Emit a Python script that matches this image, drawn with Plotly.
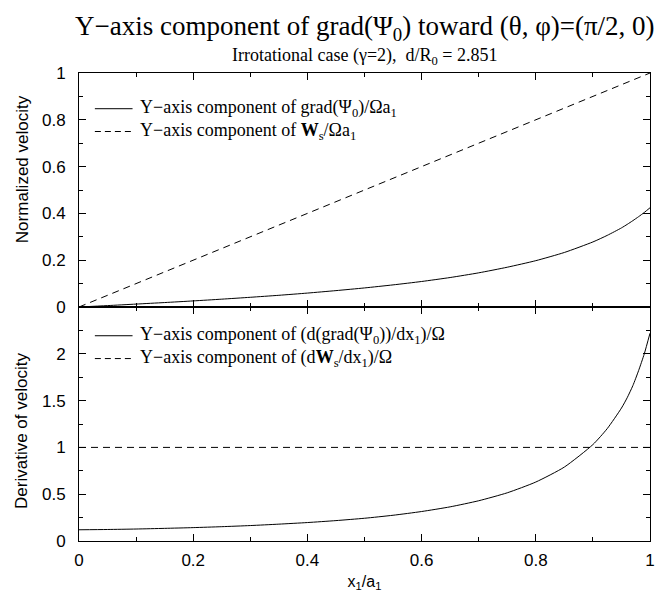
import plotly.graph_objects as go
from plotly.subplots import make_subplots

# x_1/a_1 sample points
x = [0, 0.05, 0.1, 0.15, 0.2, 0.25, 0.3, 0.35, 0.4, 0.45, 0.5, 0.55, 0.6,
     0.65, 0.7, 0.75, 0.8, 0.85, 0.9, 0.925, 0.95, 0.96, 0.97, 0.98, 0.99, 1.0]

# top panel: Y-axis component of grad(Psi_0)/Omega a_1
grad_psi = [0, 0.006, 0.0125, 0.019, 0.026, 0.0335, 0.0415, 0.05, 0.0595, 0.07,
            0.0815, 0.0945, 0.109, 0.126, 0.146, 0.17, 0.198, 0.233, 0.278,
            0.306, 0.338, 0.353, 0.369, 0.386, 0.404, 0.424]
# top panel: W_s/Omega a_1
ws_x = [0, 1]
ws = [0, 1]

# bottom panel: d(grad Psi_0)/dx_1 / Omega
dgrad = [0.12, 0.123, 0.128, 0.135, 0.143, 0.153, 0.165, 0.18, 0.197, 0.218,
         0.243, 0.275, 0.315, 0.365, 0.43, 0.515, 0.63, 0.79, 1.03,
         1.2, 1.42, 1.53, 1.66, 1.82, 2.0, 2.22]
dws_x = [0, 1]
dws = [1, 1]

top_ticks = [0, 0.2, 0.4, 0.6, 0.8, 1]
top_text = ['0', '0.2', '0.4', '0.6', '0.8', '1']
bot_ticks = [0, 0.5, 1, 1.5, 2]
bot_text = ['0', '0.5', '1', '1.5', '2']
x_ticks = [0, 0.2, 0.4, 0.6, 0.8, 1]
x_text = ['0', '0.2', '0.4', '0.6', '0.8', '1']

labels = ['Y\u2212axis component of grad(\u03a8<sub>0</sub>)/\u03a9a<sub>1</sub>',
          'Y\u2212axis component of <b>W</b><sub>s</sub>/\u03a9a<sub>1</sub>',
          'Y\u2212axis component of (d(grad(\u03a8<sub>0</sub>))/dx<sub>1</sub>)/\u03a9',
          'Y\u2212axis component of (d<b>W</b><sub>s</sub>/dx<sub>1</sub>)/\u03a9']

serif = 'Liberation Serif'
sans = 'Liberation Sans'
dash = '7px,5px'

fig = make_subplots(rows=2, cols=1, shared_xaxes=False, vertical_spacing=0)

fig.add_trace(go.Scatter(x=x, y=grad_psi, mode='lines', name=labels[0],
                         line=dict(color='black', width=1, shape='spline', smoothing=0.6)),
              row=1, col=1)
fig.add_trace(go.Scatter(x=ws_x, y=ws, mode='lines', name=labels[1],
                         line=dict(color='black', width=1, dash=dash)), row=1, col=1)
fig.add_trace(go.Scatter(x=x, y=dgrad, mode='lines', name=labels[2],
                         line=dict(color='black', width=1, shape='spline', smoothing=0.6)),
              row=2, col=1)
fig.add_trace(go.Scatter(x=dws_x, y=dws, mode='lines', name=labels[3],
                         line=dict(color='black', width=1, dash=dash)), row=2, col=1)

axis_common = dict(showline=True, linecolor='black', linewidth=1, mirror='allticks',
                   ticks='inside', ticklen=7, tickcolor='black', tickwidth=1,
                   showgrid=False, zeroline=False,
                   tickfont=dict(family=sans, size=17, color='black'))

fig.update_xaxes(range=[0, 1], tickvals=x_ticks, ticktext=x_text,
                 minor=dict(ticks='inside', ticklen=4, dtick=0.1, tickcolor='black'),
                 **axis_common)
fig.update_xaxes(showticklabels=False, row=1, col=1)
fig.update_xaxes(ticklabelstandoff=4,
                 title=dict(text='x<sub>1</sub>/a<sub>1</sub>', standoff=6,
                            font=dict(family=sans, size=16, color='black')), row=2, col=1)

fig.update_yaxes(range=[0, 1], tickvals=top_ticks, ticktext=top_text, ticklabelstandoff=9,
                 minor=dict(ticks='inside', ticklen=4, dtick=0.1, tickcolor='black'),
                 row=1, col=1, **axis_common)
fig.update_yaxes(range=[0, 2.5], tickvals=bot_ticks, ticktext=bot_text, ticklabelstandoff=9,
                 minor=dict(ticks='inside', ticklen=4, dtick=0.25, tickcolor='black'),
                 row=2, col=1, **axis_common)

# hand-drawn legends (paper coordinates)
leg_x0, leg_x1, leg_tx = 0.0278, 0.0938, 0.1042
leg_y = [0.9237, 0.875, 0.4386, 0.3898]
leg_dash = ['solid', '6px,4px', 'solid', '6px,4px']
shapes = []
annotations = []
for lab, ly, ld in zip(labels, leg_y, leg_dash):
    shapes.append(dict(type='line', xref='paper', yref='paper', x0=leg_x0, x1=leg_x1,
                       y0=ly, y1=ly, line=dict(color='black', width=1, dash=ld)))
    annotations.append(dict(text=lab, xref='paper', yref='paper', x=leg_tx, y=ly,
                            xanchor='left', yanchor='middle', showarrow=False,
                            font=dict(family=serif, size=18, color='black')))

annotations += [
    dict(text='Y\u2212axis component of grad(\u03a8<sub>0</sub>) toward (\u03b8, \u03c6)=(\u03c0/2, 0)',
         xref='paper', yref='paper', x=0.5, y=1, yshift=64, showarrow=False,
         xanchor='center', yanchor='top',
         font=dict(family=serif, size=27, color='black')),
    dict(text='Irrotational case (\u03b3=2),  d/R<sub>0</sub> = 2.851',
         xref='paper', yref='paper', x=0.5, y=1, yshift=17, showarrow=False,
         xanchor='center', yanchor='middle',
         font=dict(family=serif, size=18, color='black')),
    dict(text='Normalized velocity', xref='paper', yref='paper', x=0, xshift=-57,
         y=(545 - 170) / 472, textangle=-90, showarrow=False,
         xanchor='center', yanchor='middle',
         font=dict(family=sans, size=17, color='black')),
    dict(text='Derivative of velocity', xref='paper', yref='paper', x=0, xshift=-57,
         y=(545 - 434) / 472, textangle=-90, showarrow=False,
         xanchor='center', yanchor='middle',
         font=dict(family=sans, size=17, color='black')),
]

fig.update_layout(
    width=658, height=591,
    margin=dict(l=71, r=11, t=65, b=54),
    plot_bgcolor='white', paper_bgcolor='white',
    showlegend=False,
    shapes=shapes,
    annotations=annotations,
)

fig.write_html('out.html')
